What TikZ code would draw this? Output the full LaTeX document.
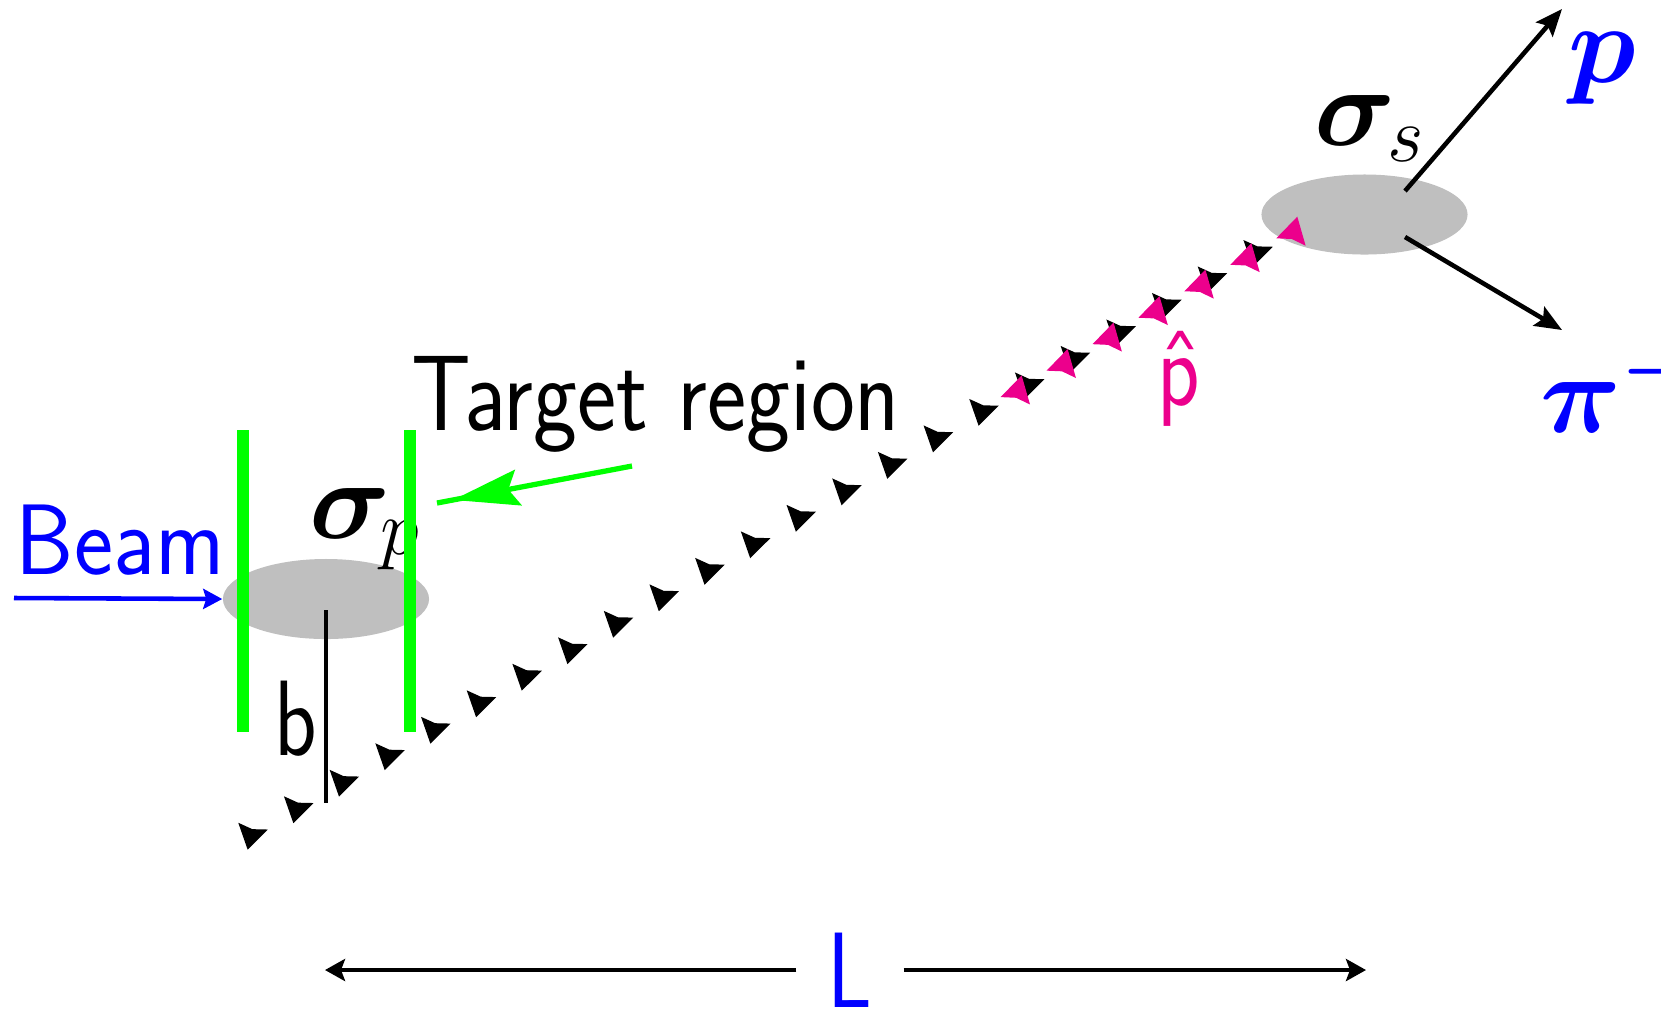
\RequirePackage{fix-cm}
\documentclass[tikz,border=0pt]{standalone}
\usepackage{amsmath,amssymb}
\usepackage{graphicx}
\usepackage{tikz}
\usetikzlibrary{arrows.meta,shapes.geometric,decorations.markings}

\definecolor{hatpink}{RGB}{236,0,140}
\newcommand{\narrow}[2][0.87]{\scalebox{#1}[1]{#2}}

\begin{document}
\begin{tikzpicture}[x=0.01cm,y=-0.01cm,
blob/.style={ellipse,fill=black!25,minimum width=2.06cm,minimum height=0.8cm,inner sep=0pt},
word/.style={font=\sffamily\fontsize{30.5}{36}\selectfont,inner sep=0pt,anchor=base west},
sym/.style={font=\fontsize{32}{38}\selectfont,inner sep=0pt,anchor=base west},
plate/.style={green,line width=3.4pt},
arrow/.style={-{Stealth[length=0.27cm,width=0.22cm,inset=0.05cm]},line width=1.3pt},
dim/.style={-{Stealth[length=0.2cm,width=0.22cm,inset=0.04cm]},line width=1.3pt},
backtip/.style={decoration={markings,mark=between positions 0 and 1 step 0.04544 with {\pgftransformrotate{-133}\pgftransformxshift{0.15cm}\arrow{Stealth[length=0.24cm,width=0.3cm,inset=0.03cm]}}},decorate},
fwdtip/.style={decoration={markings,mark=between positions 0 and 1 step 0.1666 with {\pgftransformrotate{46}\pgftransformxshift{0.15cm}\arrow[hatpink]{Stealth[length=0.26cm,width=0.3cm,inset=0.03cm]}}},decorate}
]

\useasboundingbox (0,0) rectangle (1661,1008);

\node[blob] (sigp) at (326,599) {};

\node[blob] (sigs) at (1364.5,214.5) {};

\node[sym] (sigplab) at (309,538) {$\boldsymbol{\sigma}_{\mkern-2.5mu p}$};

\node[sym] (sigslab) at (1314,145) {$\boldsymbol{\sigma}_{\mkern-2mu s}$};

\node[sym,blue] (plab) at (1568,82) {$\boldsymbol{p}$};

\node[sym,blue] (pilab) at (1540,432) {$\boldsymbol{\pi^-}$};

\node[word,blue,font=\sffamily\fontsize{28.5}{34}\selectfont] (beam) at (15,574) {\narrow[0.93]{Beam}};

\node[word] (target) at (411,430) {\narrow{Target region}};

\node[word] (blab) at (274,755) {\narrow[0.82]{b}};

\node[word,hatpink] (phat) at (1157,405) {\narrow[0.82]{\^p}};

\node[word,blue,anchor=center,minimum width=1.06cm] (Llab) at (850,970) {\narrow[0.82]{L}};

\coordinate (beamtail) at (14,598);
\coordinate (arrowtail) at (632,466);
\coordinate (arrowend) at (437,503);
\coordinate (btop) at (326,610);
\coordinate (bbot) at (326,803);
\coordinate (trkA) at (251,835);
\coordinate (trkB) at (1256.5,252);
\coordinate (hatA) at (1018,390);
\coordinate (hatB) at (1294,231);
\coordinate (pout) at (1405,191);
\coordinate (ptip) at (1562,9);
\coordinate (piout) at (1405,237);
\coordinate (pitip) at (1562,330);
\coordinate (dimleft) at (325,970);
\coordinate (dimright) at (1366,970);

\draw[plate] (243,430) -- (243,732);
\draw[plate] (410,430) -- (410,732);

\draw[blue,line width=1.3pt,-{Stealth[length=0.19cm,width=0.2cm,inset=0.03cm]}] (beamtail) -- (sigp.west);

\draw[green,line width=1.5pt,decoration={markings,mark=at position 0.917 with {\arrow{Stealth[length=0.66cm,width=0.36cm,inset=0.1cm]}}},postaction=decorate] (arrowtail) -- (arrowend);

\draw[line width=1.3pt] (btop) -- (bbot);

\path[backtip] (trkA) -- (trkB);

\path[fwdtip] (hatA) -- (hatB);

\draw[arrow] (pout) -- (ptip);

\draw[arrow] (piout) -- (pitip);

\draw[dim] (Llab.west) -- (dimleft);

\draw[dim] (Llab.east) -- (dimright);

\end{tikzpicture}
\end{document}
